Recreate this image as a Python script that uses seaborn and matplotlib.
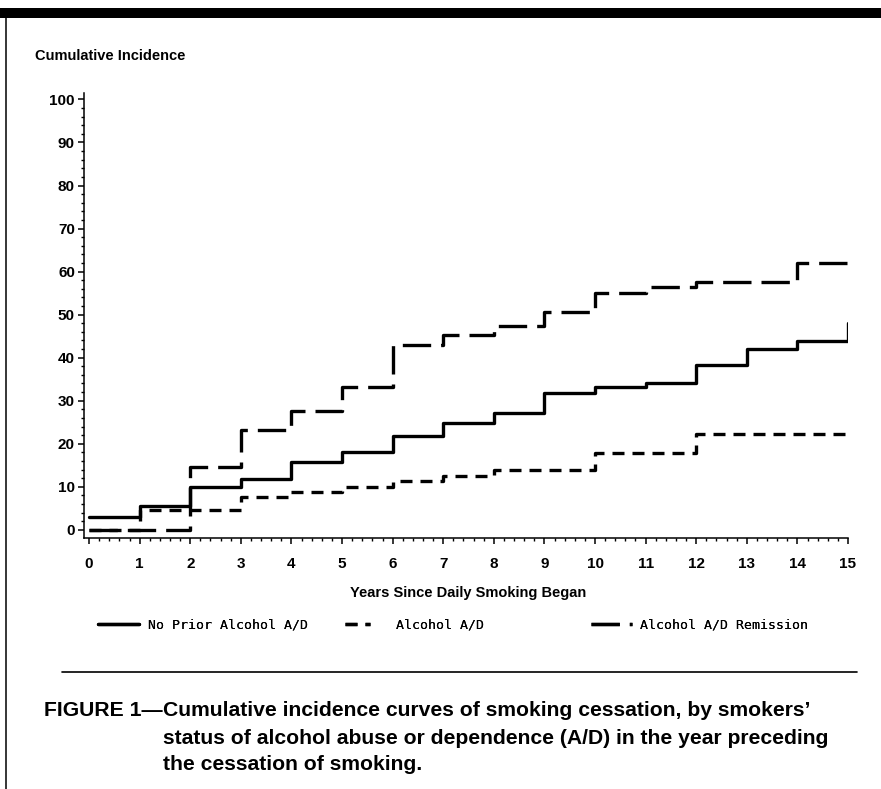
import matplotlib
matplotlib.use("Agg")
import matplotlib.pyplot as plt
import numpy as np
import pandas as pd
import seaborn as sns
from matplotlib.lines import Line2D
from matplotlib.patches import Rectangle
from matplotlib.ticker import MultipleLocator

# ---------------- data ----------------
years = list(range(0, 16))
no_prior = [3.0, 5.6, 10.0, 11.7, 15.8, 18.1, 21.9, 24.9, 27.2, 31.7, 33.3, 34.0, 38.2, 41.9, 43.8, 43.8]
no_prior_end = 48.1  # final jump at year 15
alcohol = [0.0, 4.6, 4.6, 7.7, 8.9, 10.0, 11.4, 12.6, 14.0, 14.0, 17.8, 17.8, 22.3, 22.3, 22.3, 22.3]
remission = [0.0, 0.0, 14.7, 23.3, 27.6, 33.3, 43.0, 45.3, 47.4, 50.7, 55.1, 56.5, 57.7, 57.7, 62.1, 62.1]
series_names = ["No Prior Alcohol A/D", "Alcohol A/D", "Alcohol A/D Remission"]
x_ticks = list(range(0, 16))
y_ticks = list(range(0, 101, 10))
y_title = "Cumulative Incidence"
x_title = "Years Since Daily Smoking Began"
caption_lead = "FIGURE 1\u2014"
caption_lines = [
    "Cumulative incidence curves of smoking cessation, by smokers\u2019",
    "status of alcohol abuse or dependence (A/D) in the year preceding",
    "the cessation of smoking.",
]

# ---------------- long-form table ----------------
rows = []
for x, y in zip(years + [15], no_prior + [no_prior_end]):
    rows.append((series_names[0], x, y))
for x, y in zip(years, alcohol):
    rows.append((series_names[1], x, y))
for x, y in zip(years, remission):
    rows.append((series_names[2], x, y))
df = pd.DataFrame(rows, columns=["series", "year", "pct"])

# ---------------- style ----------------
sns.set_theme(style="white")
plt.rcParams["font.family"] = ["Liberation Sans", "DejaVu Sans"]
plt.rcParams["axes.unicode_minus"] = False
for k in ["text.color", "axes.labelcolor", "xtick.color", "ytick.color", "axes.edgecolor"]:
    plt.rcParams[k] = "black"

W, H = 881, 789
fig = plt.figure(figsize=(W / 100, H / 100), dpi=100)
fig.patch.set_facecolor("white")

ax_l, ax_r, ax_t, ax_b = 84, 848, 93, 538
ax = fig.add_axes([ax_l / W, 1 - ax_b / H, (ax_r - ax_l) / W, (ax_b - ax_t) / H])

LW = 2.4
dash_map = {
    series_names[0]: "",
    series_names[1]: (3.6, 2.4),
    series_names[2]: (8.5, 3.0),
}
sns.lineplot(
    data=df, x="year", y="pct", hue="series", style="series",
    hue_order=series_names, style_order=series_names,
    palette=["black"] * 3, dashes=dash_map,
    estimator=None, sort=False, drawstyle="steps-post",
    linewidth=LW, legend=False, ax=ax,
)

ax.set_xlim(-0.1, 15.0)
ax.set_ylim(-1.9, 101.5)
ax.set_xticks(x_ticks)
ax.set_yticks(y_ticks)
ax.xaxis.set_minor_locator(MultipleLocator(0.2))
ax.yaxis.set_minor_locator(MultipleLocator(2))
ax.set_xticklabels([str(t) for t in x_ticks], fontweight="bold", fontsize=11, color="black")
ax.set_yticklabels([str(t) for t in y_ticks], fontweight="bold", fontsize=11, color="black")
ax.tick_params(axis="x", which="major", direction="out", length=4.5, width=1.1, pad=9, colors="black", bottom=True)
ax.tick_params(axis="x", which="minor", direction="out", length=2.3, width=1.0, colors="black", bottom=True)
ax.tick_params(axis="y", which="major", direction="out", length=4.5, width=1.1, pad=2, colors="black", left=True)
ax.tick_params(axis="y", which="minor", direction="out", length=2.3, width=1.0, colors="black", left=True)
for s in ["top", "right"]:
    ax.spines[s].set_visible(False)
for s in ["left", "bottom"]:
    ax.spines[s].set_color("black")
    ax.spines[s].set_linewidth(1.1)

ax.set_ylabel(y_title, rotation=0, ha="left", va="center", fontweight="bold", fontsize=10.5, color="black")
ax.yaxis.set_label_coords((35 - ax_l) / (ax_r - ax_l), (ax_b - 56) / (ax_b - ax_t))
ax.set_xlabel(x_title, ha="center", va="center", fontweight="bold", fontsize=10.5, color="black")
ax.xaxis.set_label_coords((468 - ax_l) / (ax_r - ax_l), -(593 - ax_b) / (ax_b - ax_t))

# ---------------- legend (three groups) ----------------
leg_y = 1 - 625 / H
leg_specs = [
    (98, 3.1, 0.7, None),
    (345, 1.9, 2.0, dash_map[series_names[1]]),
    (591, 3.1, 0.6, dash_map[series_names[2]]),
]
for name, (lx, hl, htp, dsh) in zip(series_names, leg_specs):
    h = Line2D([], [], linestyle="-", color="black", lw=LW)
    if dsh:
        h.set_dashes(dsh)
    lg = fig.legend(
        handles=[h], labels=[name], loc="center left",
        bbox_to_anchor=(lx / W, leg_y), frameon=False,
        borderaxespad=0, borderpad=0, handlelength=hl, handletextpad=htp,
        prop={"family": "DejaVu Sans Mono", "size": 9.5},
        labelcolor="black",
    )
    fig.add_artist(lg)

# ---------------- page decorations ----------------
fig.add_artist(Rectangle((0, 1 - 18 / H), 1, 10 / H, transform=fig.transFigure,
                         facecolor="black", edgecolor="none"))
fig.add_artist(Line2D([6 / W, 6 / W], [0, 1 - 18 / H], transform=fig.transFigure,
                      color="black", lw=1.1))
fig.add_artist(Line2D([62 / W, 857 / W], [1 - 672 / H] * 2, transform=fig.transFigure,
                      color="black", lw=1.2))

# ---------------- caption ----------------
cap_ys = [711, 738, 764]
cap_fs = 15.2
fig.text(163 / W, 1 - cap_ys[0] / H, caption_lead, ha="right", va="center",
         fontweight="bold", fontsize=cap_fs, color="black")
for yy, line in zip(cap_ys, caption_lines):
    fig.text(163 / W, 1 - yy / H, line, ha="left", va="center",
             fontweight="bold", fontsize=cap_fs, color="black")

fig.savefig("out.png", dpi=100, facecolor="white")
